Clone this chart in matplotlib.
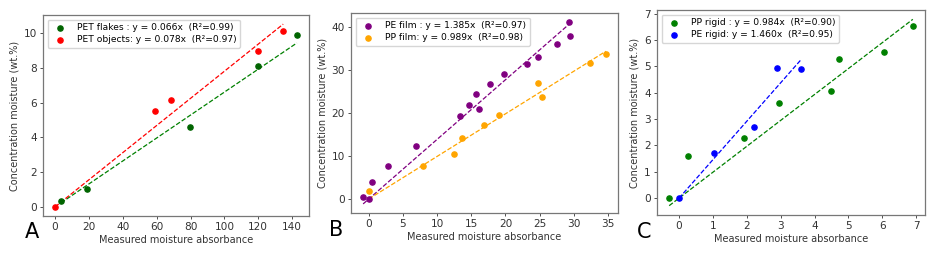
import matplotlib
matplotlib.use("Agg")
import matplotlib.pyplot as plt
import numpy as np

# Panel A
pet_flakes_x = [3.5, 18.7, 79.7, 119.7, 142.8]
pet_flakes_y = [0.33, 1.0, 4.6, 8.09, 9.9]
pet_objects_x = [0.0, 59.2, 68.4, 119.9, 134.7]
pet_objects_y = [0.0, 5.54, 6.16, 8.94, 10.1]
slope_pet_flakes = 0.066
slope_pet_objects = 0.078

# Panel B
pe_film_x = [-0.83, 0.0, 0.44, 2.77, 6.9, 13.37, 14.6, 15.7, 16.1, 17.7, 19.8, 23.1, 24.7, 27.5, 29.27, 29.5]
pe_film_y = [0.46, 0.0, 3.85, 7.77, 12.4, 19.3, 21.8, 24.5, 21.0, 26.6, 29.0, 31.4, 33.1, 36.0, 41.1, 37.9]
pp_film_x = [0.0, 7.88, 12.5, 13.66, 16.9, 19.1, 24.7, 25.3, 32.4, 34.7]
pp_film_y = [1.77, 7.6, 10.5, 14.1, 17.1, 19.4, 27.0, 23.8, 31.6, 33.8]
slope_pe_film = 1.385
slope_pp_film = 0.989

# Panel C
pp_rigid_x = [-0.29, 0.27, 1.93, 2.94, 4.5, 4.73, 6.04, 6.9]
pp_rigid_y = [0.0, 1.59, 2.28, 3.6, 4.06, 5.28, 5.54, 6.52]
pe_rigid_x = [0.0, 1.02, 2.2, 2.9, 3.61]
pe_rigid_y = [0.0, 1.73, 2.72, 4.96, 4.92]
slope_pp_rigid = 0.984
slope_pe_rigid = 1.460

panel_letters = ["A", "B", "C"]

panels = [
    [("PET flakes : y = 0.066x  (R\u00b2=0.99)", pet_flakes_x, pet_flakes_y, slope_pet_flakes, "#006400", "green"),
     ("PET objects: y = 0.078x  (R\u00b2=0.97)", pet_objects_x, pet_objects_y, slope_pet_objects, "red", "red")],
    [("PE film : y = 1.385x  (R\u00b2=0.97)", pe_film_x, pe_film_y, slope_pe_film, "purple", "purple"),
     ("PP film: y = 0.989x  (R\u00b2=0.98)", pp_film_x, pp_film_y, slope_pp_film, "orange", "orange")],
    [("PP rigid : y = 0.984x  (R\u00b2=0.90)", pp_rigid_x, pp_rigid_y, slope_pp_rigid, "green", "green"),
     ("PE rigid: y = 1.460x  (R\u00b2=0.95)", pe_rigid_x, pe_rigid_y, slope_pe_rigid, "blue", "blue")],
]
xticks = [np.arange(0, 141, 20), np.arange(0, 36, 5), np.arange(0, 8, 1)]

W, H = 939, 257
fig = plt.figure(figsize=(W / 100, H / 100), dpi=100)
boxes = [(43, 15, 309, 216), (351, 13, 618, 213), (657, 10, 925, 215)]
letter_pos = [(32, 232), (336, 230), (644, 232)]

for i, (series, box) in enumerate(zip(panels, boxes)):
    l, t, r, b = box
    ax = fig.add_axes([l / W, 1 - b / H, (r - l) / W, (b - t) / H])
    for label, xs, ys, slope, mcolor, lcolor in series:
        xs = np.array(xs); ys = np.array(ys)
        ax.scatter(xs, ys, s=14, color=mcolor, label=label, zorder=3)
        xl = np.array([xs.min(), xs.max()])
        ax.plot(xl, slope * xl, ls="--", color=lcolor, lw=0.9, zorder=2)
    ax.set_xticks(xticks[i])
    ax.tick_params(labelsize=7.6, length=2.5, width=0.6, colors="#333333", pad=2)
    for s in ax.spines.values():
        s.set_color("#777777")
        s.set_linewidth(0.9)
    ax.set_xlabel("Measured moisture absorbance", fontsize=7, color="#333333", labelpad=2)
    ax.set_ylabel("Concentration moisture (wt.%)", fontsize=7, color="#333333", labelpad=3)
    ax.legend(loc="upper left", fontsize=6.6, frameon=True, borderpad=0.4,
              labelspacing=0.3, handletextpad=0.8, scatterpoints=1)
    lx, ly = letter_pos[i]
    fig.text(lx / W, 1 - ly / H, panel_letters[i], fontsize=15, ha="center", va="center")

fig.savefig("out.png", dpi=100)
